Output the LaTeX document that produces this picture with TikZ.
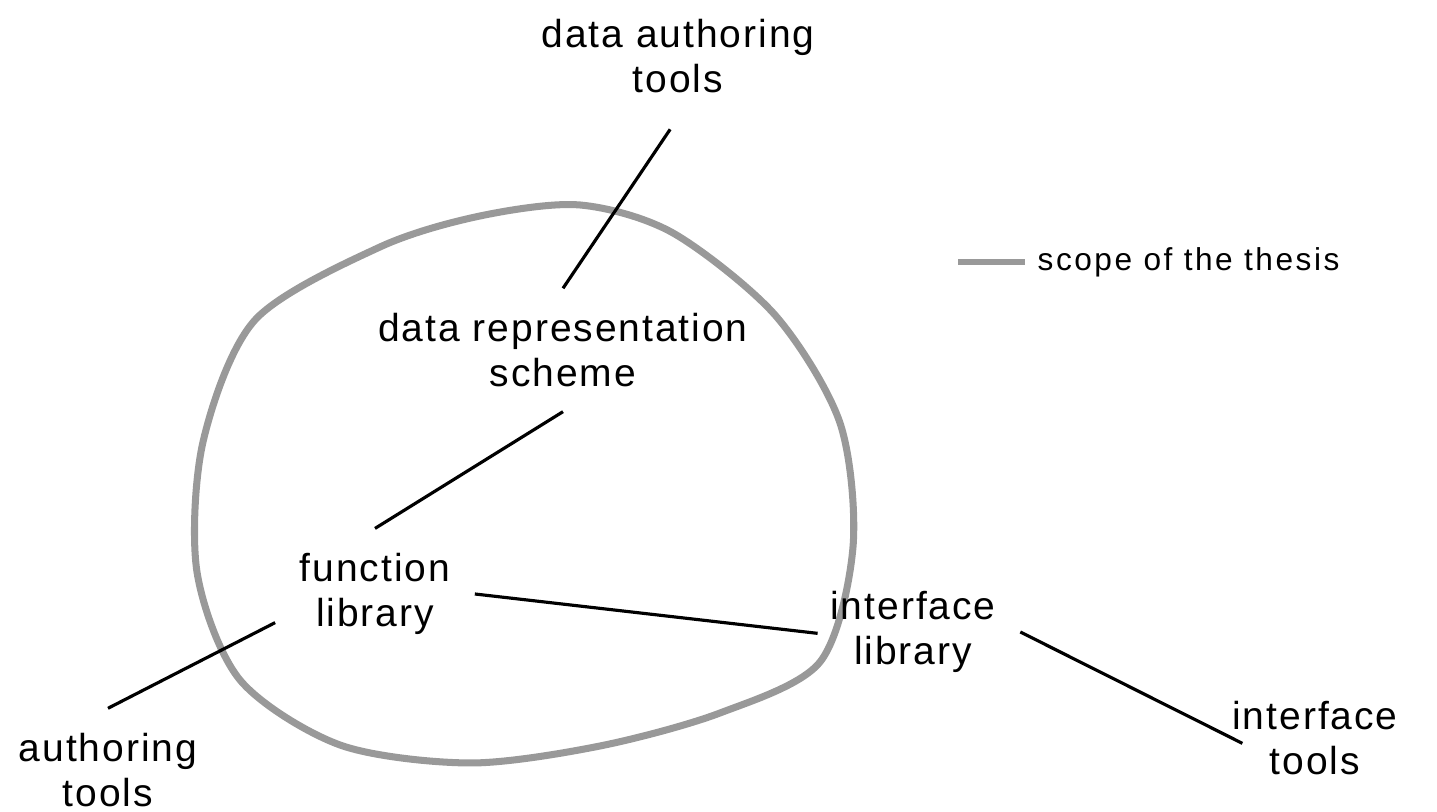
\documentclass[tikz,border=0pt]{standalone}
\usepackage{fontspec}
\setmainfont{Liberation Sans}[LetterSpace=5]
\newfontfamily\legendfont{Liberation Sans}[LetterSpace=8]
\tikzstyle{term} = [
    align=center,
    inner sep=0.24cm,
    font=\fontsize{11.1}{12.9}\selectfont
]
\tikzstyle{link} = [line width=0.9pt]
\tikzstyle{thesis} = [line width=2pt, draw=black!40]

\begin{document}
\begin{tikzpicture}
\useasboundingbox (0,0) rectangle (14.37,8.12);

% scope boundary
\draw [thesis] plot [smooth cycle] coordinates {
    (5.80,6.07) (6.73,5.79) (7.75,4.97) (8.40,3.89) (8.53,2.65)
    (8.20,1.50) (7.20,0.99) (6.00,0.66) (4.70,0.49) (3.40,0.67)
    (2.40,1.32) (1.97,2.40) (2.03,3.70) (2.55,4.92) (3.80,5.65)
    (4.80,5.96)
};

\node (dat) [term] at (6.78,7.56) {data authoring\\tools};

\node (drs) [term] at (5.63,4.62) {data representation\\scheme};

\node (fun) [term] at (3.75,2.18) {function\\library};

\node (int) [term] at (9.13,1.80) {interface\\library};

\node (aut) [term] at (1.08,0.42) {authoring\\tools};

\node (itt) [term, inner sep=0pt] at (13.15,0.74) {interface\\tools};

% legend
\coordinate (legendstart) at (9.58,5.50);
\node (legend) [anchor=west, inner sep=0pt,
    font=\legendfont\fontsize{9}{10.8}\selectfont] at (10.37,5.50)
{scope of the thesis};

\draw [link, shorten <=4pt] (dat.south) -- (drs.north);
\draw [link] (drs.south) -- (fun.north);
\draw [link, shorten >=-0.12cm] (fun.east) -- (int.west);
\draw [link] (fun.196) -- (aut.north);
\draw [link, shorten >=-0.12cm] (int.east) -- (itt.west);
\draw [thesis, line width=1.7pt] (legendstart) -- ([xshift=-0.12cm]legend.west);

\end{tikzpicture}
\end{document}
